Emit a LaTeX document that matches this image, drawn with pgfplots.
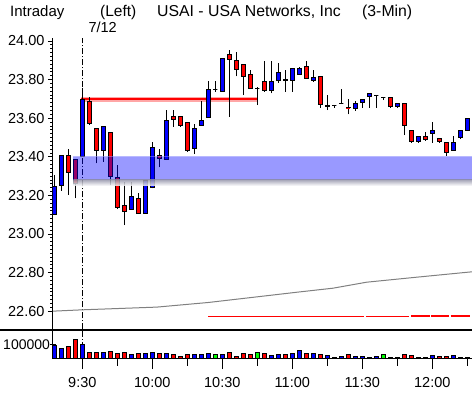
\documentclass[border=0pt]{standalone}
\usepackage{fontspec}
\setmainfont{Liberation Sans}
\usepackage{pgfplots}
\usepackage{pgfplotstable}
\pgfplotsset{compat=1.18}
\definecolor{cr}{RGB}{255,0,0}
\definecolor{cb}{RGB}{0,0,255}
\definecolor{cg}{RGB}{0,255,0}
\definecolor{magray}{RGB}{128,128,128}

\pgfplotstableread{
k o c h l v col
-4 23.101 23.245 23.305 23.098 98000 cb
-3 23.250 23.405 23.405 23.224 76000 cb
-2 23.405 23.319 23.440 23.202 91000 cr
-1 23.386 23.262 23.386 23.184 141000 cr
0 23.400 23.699 23.759 23.400 105000 cb
1 23.689 23.573 23.711 23.564 48000 cr
2 23.547 23.435 23.547 23.366 48000 cr
3 23.435 23.559 23.559 23.374 48000 cb
4 23.528 23.297 23.528 23.253 55000 cr
5 23.293 23.138 23.357 23.129 41000 cr
6 23.145 23.115 23.271 23.046 48000 cr
7 23.127 23.196 23.271 23.127 31000 cb
8 23.184 23.107 23.210 23.107 41000 cr
9 23.107 23.279 23.279 23.107 41000 cb
10 23.241 23.449 23.478 23.236 48000 cb
11 23.405 23.392 23.438 23.345 41000 cr
12 23.388 23.590 23.645 23.383 41000 cb
13 23.607 23.594 23.642 23.556 31000 cr
14 23.607 23.563 23.607 23.556 19000 cr
15 23.578 23.435 23.578 23.426 31000 cr
16 23.443 23.547 23.569 23.414 31000 cb
17 23.561 23.590 23.689 23.561 31000 cb
18 23.602 23.749 23.792 23.602 41000 cb
19 23.749 23.749 23.792 23.737 31000 cg
20 23.737 23.910 23.910 23.737 31000 cb
21 23.930 23.904 23.953 23.607 48000 cr
22 23.898 23.853 23.945 23.817 19000 cr
23 23.880 23.817 23.880 23.719 41000 cr
24 23.828 23.754 23.849 23.754 31000 cr
25 23.754 23.754 23.763 23.668 48000 cg
26 23.789 23.746 23.898 23.737 41000 cr
27 23.746 23.789 23.898 23.728 26000 cb
28 23.797 23.837 23.887 23.784 31000 cb
29 23.799 23.797 23.851 23.737 31000 cr
30 23.797 23.858 23.858 23.737 41000 cb
31 23.827 23.858 23.866 23.827 62000 cb
32 23.866 23.806 23.898 23.806 41000 cr
33 23.794 23.811 23.849 23.789 41000 cb
34 23.815 23.671 23.815 23.654 31000 cr
35 23.663 23.665 23.720 23.642 26000 cb
36 23.664 23.664 23.664 23.654 12000 cb
37 23.677 23.677 23.749 23.677 19000 cb
38 23.655 23.653 23.697 23.620 31000 cr
39 23.651 23.677 23.689 23.639 19000 cb
40 23.680 23.697 23.697 23.654 19000 cb
41 23.711 23.728 23.728 23.654 12000 cb
42 23.716 23.716 23.716 23.654 19000 cb
43 23.706 23.706 23.706 23.694 31000 cg
44 23.708 23.659 23.708 23.654 12000 cr
45 23.659 23.677 23.677 23.654 12000 cb
46 23.677 23.561 23.677 23.512 31000 cr
47 23.538 23.478 23.538 23.473 26000 cr
48 23.478 23.507 23.507 23.473 12000 cb
49 23.507 23.490 23.530 23.483 12000 cr
50 23.521 23.538 23.582 23.473 26000 cb
51 23.495 23.478 23.495 23.473 19000 cr
52 23.474 23.423 23.474 23.405 19000 cr
53 23.431 23.474 23.507 23.431 26000 cb
54 23.499 23.538 23.538 23.492 12000 cb
55 23.538 23.599 23.599 23.538 12000 cb
}\bars

\pgfplotstableread{
k ma
-4.23 22.600
0 22.607
10.63 22.621
18 22.645
25.39 22.676
31.1 22.700
35.8 22.719
40.6 22.750
47.2 22.774
55.1 22.802
55.7 22.804
}\mavg

\newcommand\tfont{\fontsize{14.5}{16}\selectfont}

\begin{document}
\begin{tikzpicture}
\useasboundingbox (0,0) rectangle (472pt,394pt);

% title
\node[anchor=base west, inner sep=0, font=\fontsize{15}{16}\selectfont] at (10pt,377.5pt) {Intraday};
\node[anchor=base west, inner sep=0, font=\fontsize{15.5}{16}\selectfont] at (100pt,377.5pt) {(Left)};
\node[anchor=base west, inner sep=0, font=\fontsize{15.8}{16}\selectfont] at (157pt,377.5pt) {USAI - USA Networks, Inc};
\node[anchor=base west, inner sep=0, font=\fontsize{15.8}{16}\selectfont] at (362pt,377.5pt) {(3-Min)};
\node[anchor=base west, inner sep=0, font=\tfont] at (88.3pt,361.7pt) {7/12};

% price panel
\begin{axis}[
  at={(53pt,64.5pt)}, anchor=south west, scale only axis,
  width=419pt, height=291.4pt,
  xmin=-4.19, xmax=55.67, ymin=22.505, ymax=24.015,
  axis x line=none, axis y line=left,
  axis line style={-, line width=1pt},
  ytick={22.6,22.8,...,24.01},
  minor y tick num=9,
  tick align=outside,
  major tick length=5pt, minor tick length=2.5pt,
  tick style={black, line width=0.8pt},
  yticklabel shift=0pt,
  yticklabel style={font=\tfont},
  /pgf/number format/.cd, fixed, fixed zerofill, precision=2, assume math mode=true,
]
% dashed 9:30 line
\addplot[black, line width=1pt, dash pattern=on 6pt off 2pt on 1pt off 2pt, forget plot] coordinates {(0,22.505) (0,24.015)};
% moving average
\addplot[magray, line width=1pt, forget plot] table[x=k,y=ma] {\mavg};
% lower red line, in segments
\addplot[cr, line width=1.4pt, forget plot] coordinates {(18,22.5724) (40.3,22.5724)};
\addplot[cr, line width=1.4pt, forget plot] coordinates {(40.5,22.5724) (46.6,22.5724)};
\addplot[cr, line width=1.4pt, forget plot] coordinates {(47.0,22.5750) (49.6,22.5750)};
\addplot[cr, line width=1.4pt, forget plot] coordinates {(49.8,22.5750) (52.4,22.5750)};
\addplot[cr, line width=1.4pt, forget plot] coordinates {(52.6,22.5750) (55.4,22.5750)};
% resistance line with glow
\addplot[red!35, line width=4.5pt, forget plot] coordinates {(-0.23,23.698) (24.9,23.698)};
\addplot[cr, line width=1.8pt, forget plot] coordinates {(-0.23,23.698) (24.9,23.698)};
% candles
\pgfplotsforeachungrouped \i in {0,...,59}{%
  \pgfplotstablegetelem{\i}{k}\of\bars \let\ck\pgfplotsretval
  \pgfplotstablegetelem{\i}{o}\of\bars \let\co\pgfplotsretval
  \pgfplotstablegetelem{\i}{c}\of\bars \let\cc\pgfplotsretval
  \pgfplotstablegetelem{\i}{h}\of\bars \let\ch\pgfplotsretval
  \pgfplotstablegetelem{\i}{l}\of\bars \let\cl\pgfplotsretval
  \pgfplotstablegetelem{\i}{col}\of\bars \let\ccol\pgfplotsretval
  \pgfmathsetmacro\xa{\ck-0.3}\pgfmathsetmacro\xb{\ck+0.3}%
  \edef\tmp{\noexpand\addplot[black, line width=1pt, forget plot] coordinates {(\ck,\cl) (\ck,\ch)};
    \noexpand\addplot[draw=black, line width=1pt, fill=\ccol, forget plot] coordinates {(\xa,\co) (\xb,\co) (\xb,\cc) (\xa,\cc)} -- cycle;}%
  \tmp
}
% support band
\addplot[draw=none, fill=cb, fill opacity=0.4, forget plot] coordinates {(-1.29,23.2803) (55.7,23.2803) (55.7,23.4036) (-1.29,23.4036)} -- cycle;
\addplot[draw=none, fill=white, fill opacity=0.3, forget plot] coordinates {(-1.29,23.398) (55.7,23.398) (55.7,23.4036) (-1.29,23.4036)} -- cycle;
\addplot[draw=none, top color=blue!20!black!40, bottom color=white, opacity=0.85, forget plot] coordinates {(-1.29,23.249) (55.7,23.249) (55.7,23.2803) (-1.29,23.2803)} -- cycle;
\end{axis}

% separator line
\draw[line width=1.5pt] (0,64pt) -- (472pt,64pt);

% volume panel
\begin{axis}[
  at={(53pt,35.3pt)}, anchor=south west, scale only axis,
  width=419pt, height=27.7pt,
  xmin=-4.19, xmax=55.67, ymin=0, ymax=198000,
  axis lines=left,
  axis line style={-, line width=1pt},
  xtick={0,10,...,50},
  xticklabels={9:30,10:00,10:30,11:00,11:30,12:00},
  minor xtick={5,15,...,55},
  tick align=outside,
  major tick length=10.5pt, minor tick length=7pt,
  tick style={black, line width=0.8pt},
  xticklabel style={font=\tfont, yshift=-5pt},
  ytick=\empty,
  extra y ticks={100000},
  extra y tick labels={100000},
  extra y tick style={major tick length=6pt, tick align=center, yticklabel style={font=\fontsize{14}{16}\selectfont, xshift=3.5pt}},
  scaled y ticks=false,
  /pgf/number format/assume math mode=true,
]
\addplot[black, line width=1pt, dash pattern=on 6pt off 2pt on 1pt off 2pt, forget plot] coordinates {(0,0) (0,198000)};
\pgfplotsforeachungrouped \i in {0,...,59}{%
  \pgfplotstablegetelem{\i}{k}\of\bars \let\ck\pgfplotsretval
  \pgfplotstablegetelem{\i}{v}\of\bars \let\cv\pgfplotsretval
  \pgfplotstablegetelem{\i}{col}\of\bars \let\ccol\pgfplotsretval
  \pgfmathsetmacro\xa{\ck-0.26}\pgfmathsetmacro\xb{\ck+0.26}%
  \edef\tmp{\noexpand\addplot[draw=black, line width=0.8pt, fill=\ccol, forget plot] coordinates {(\xa,0) (\xb,0) (\xb,\cv) (\xa,\cv)} -- cycle;}%
  \tmp
}
\end{axis}
\end{tikzpicture}
\end{document}
